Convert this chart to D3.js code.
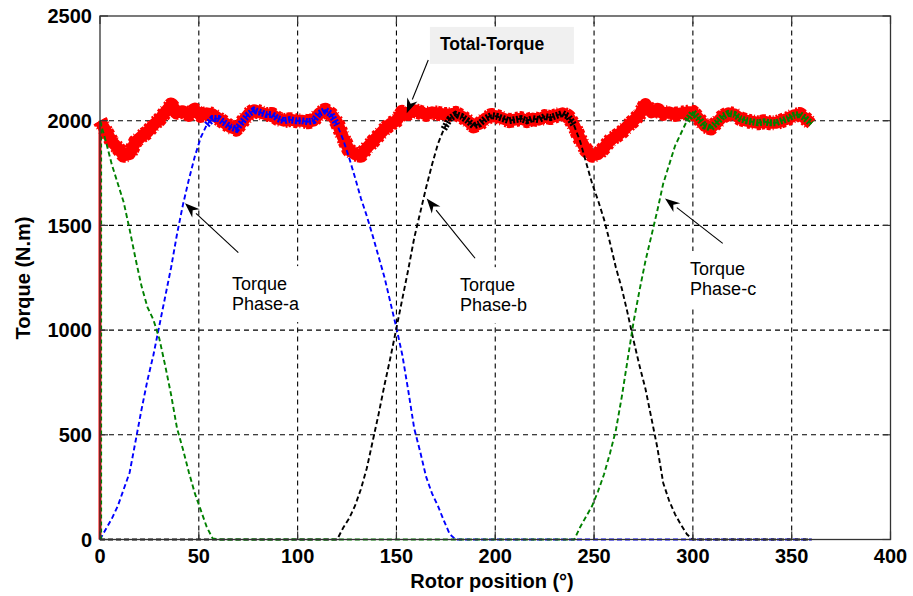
<!DOCTYPE html>
<html>
<head>
<meta charset="utf-8">
<script src="https://cdn.jsdelivr.net/npm/d3@7"></script>
<style>
  html, body { margin: 0; padding: 0; background: #fff; }
  svg { display: block; font-family: Arial, "Liberation Sans", sans-serif; }
</style>
</head>
<body>
<svg id="chart" width="913" height="596"></svg>
<script>
// ---------------- DATA ----------------
// rotor position samples (degrees), 3° step
const positions = d3.range(0, 361, 3);

const xTicks = [0, 50, 100, 150, 200, 250, 300, 350, 400];
const yTicks = [0, 500, 1000, 1500, 2000, 2500];

// initial step at 0°
const stepX = [0, 0];
const stepT = [0, 2000];

const totalTorque = [
  2000,1950,1900,1870,1835,1840,1900,1925,1945,1980,
  2005,2040,2075,2040,2045,2030,2050,2025,2035,2030,
  2010,1990,1970,1960,1995,2030,2050,2040,2030,2030,
  2010,2000,2005,2000,2000,1995,2000,2035,2050,2030,
  1990,1920,1860,1840,1835,1870,1900,1930,1960,1985,
  2000,2040,2035,2050,2040,2030,2040,2035,2030,2030,
  2035,2020,2000,1975,1985,2010,2025,2020,2010,2000,
  2005,2010,2000,2010,2005,2020,2015,2025,2035,2020,
  1975,1910,1860,1835,1840,1870,1905,1925,1945,1975,
  2000,2030,2080,2040,2050,2035,2040,2030,2035,2040,
  2040,2010,1975,1965,1990,2020,2035,2030,2010,2000,
  1995,1990,1995,1990,1990,2000,2010,2025,2030,2010,
  1985
];

const phaseA = [
  0,50,100,160,240,320,470,620,760,880,
  1020,1160,1300,1460,1600,1720,1830,1920,1980,2010,
  2010,1990,1970,1960,1995,2030,2050,2040,2030,2030,
  2010,2000,2005,2000,2000,1995,2000,2035,2050,2030,
  1980,1910,1825,1730,1630,1545,1450,1350,1250,1130,
  1010,880,710,530,420,300,220,160,90,25,
  0,0,0,0,0,0,0,0,0,0,
  0,0,0,0,0,0,0,0,0,0,
  0,0,0,0,0,0,0,0,0,0,
  0,0,0,0,0,0,0,0,0,0,
  0,0,0,0,0,0,0,0,0,0,
  0,0,0,0,0,0,0,0,0,0,
  0
];

const phaseB = [
  0,0,0,0,0,0,0,0,0,0,
  0,0,0,0,0,0,0,0,0,0,
  0,0,0,0,0,0,0,0,0,0,
  0,0,0,0,0,0,0,0,0,0,
  0,55,100,160,240,340,470,600,740,870,
  1010,1150,1290,1440,1560,1680,1790,1890,1960,2010,
  2030,2020,2000,1975,1985,2010,2025,2020,2010,2000,
  2005,2010,2000,2010,2005,2020,2015,2025,2035,2020,
  1975,1900,1800,1700,1620,1530,1420,1300,1200,1080,
  950,830,720,580,440,270,185,120,70,25,
  0,0,0,0,0,0,0,0,0,0,
  0,0,0,0,0,0,0,0,0,0,
  0
];

const phaseC = [
  2000,1900,1790,1700,1610,1480,1340,1210,1110,1050,
  960,830,690,530,430,320,220,140,60,5,
  0,0,0,0,0,0,0,0,0,0,
  0,0,0,0,0,0,0,0,0,0,
  0,0,0,0,0,0,0,0,0,0,
  0,0,0,0,0,0,0,0,0,0,
  0,0,0,0,0,0,0,0,0,0,
  0,0,0,0,0,0,0,0,0,0,
  0,60,110,160,230,310,410,520,680,860,
  1040,1190,1330,1450,1570,1700,1790,1880,1940,2000,
  2040,2010,1975,1965,1990,2020,2035,2030,2010,2000,
  1995,1990,1995,1990,1990,2000,2010,2025,2030,2010,
  1985
];

// annotations (data coordinates): arrow tail -> tip, label
const annotations = [
  { lines: ["Torque", "Phase-a"], tx: 66.8, ty: 1191, tail: [70, 1370], tip: [43, 1606] },
  { lines: ["Torque", "Phase-b"], tx: 182.2, ty: 1186, tail: [189.8, 1343], tip: [165.3, 1629] },
  { lines: ["Torque", "Phase-c"], tx: 298.6, ty: 1263, tail: [315.1, 1414], tip: [285.9, 1629] }
];
const totalLabel = { text: "Total-Torque", tx: 172, ty: 2338, tail: [166.1, 2290], tip: [155.2, 2035] };

// ---------------- CHART ----------------
const svg = d3.select("#chart");
const W = 913, H = 596;
const m = { left: 100, right: 913 - 890.5, top: 16, bottom: 596 - 539.5 };
const x = d3.scaleLinear().domain([0, 400]).range([m.left, W - m.right]);
const y = d3.scaleLinear().domain([0, 2500]).range([H - m.bottom, m.top]);

svg.append("rect").attr("width", W).attr("height", H).attr("fill", "#fff");

// grid
const grid = svg.append("g").attr("class", "grid");
grid.selectAll("line.v").data(xTicks.slice(1, -1)).join("line")
  .attr("x1", d => x(d)).attr("x2", d => x(d))
  .attr("y1", y(0)).attr("y2", y(2500))
  .attr("stroke", "#000").attr("stroke-width", 1.1).attr("stroke-dasharray", "5,4");
grid.selectAll("line.h").data(yTicks.slice(1, -1)).join("line")
  .attr("y1", d => y(d)).attr("y2", d => y(d))
  .attr("x1", x(0)).attr("x2", x(400))
  .attr("stroke", "#000").attr("stroke-width", 1.1).attr("stroke-dasharray", "5,4");

// label boxes (hide grid beneath)
const labelFont = 18;
annotations.forEach(a => {
  const px = x(a.tx), py = y(a.ty);
  svg.append("rect")
    .attr("x", px - 7).attr("y", py - 24)
    .attr("width", 82).attr("height", 56)
    .attr("fill", "#fff");
});
{
  const px = x(totalLabel.tx), py = y(totalLabel.ty);
  svg.append("rect").attr("x", px - 10).attr("y", py - 23)
    .attr("width", 144).attr("height", 37).attr("fill", "#f0f0f0");
}

const line = d3.line().x(d => x(d[0])).y(d => y(d[1]));
const zip = arr => positions.map((p, i) => [p, arr[i]]);

// total torque (thick red band with ragged edges)
svg.append("path").datum(zip(totalTorque)).attr("d", line)
  .attr("fill", "none").attr("stroke", "#ff0000").attr("stroke-width", 12)
  .attr("stroke-linejoin", "round");
svg.append("path").datum(zip(totalTorque)).attr("d", line)
  .attr("fill", "none").attr("stroke", "#ff0000").attr("stroke-width", 15)
  .attr("stroke-dasharray", "3,2,1,4,2,1,4,3").attr("stroke-linejoin", "round");
svg.append("path").datum(stepX.map((v, i) => [v, stepT[i]])).attr("d", line)
  .attr("fill", "none").attr("stroke", "#ff0000").attr("stroke-width", 3);

// phases
const phases = [
  { data: phaseA, color: "#0000ff" },
  { data: phaseB, color: "#000000" },
  { data: phaseC, color: "#008000" }
];
phases.forEach(p => {
  svg.append("path").datum(zip(p.data)).attr("d", line)
    .attr("fill", "none").attr("stroke", p.color).attr("stroke-width", 1.9)
    .attr("stroke-dasharray", "5,3");
  const flat = d3.line().defined(d => d[1] > 1945).x(d => x(d[0])).y(d => y(d[1]));
  svg.append("path").datum(zip(p.data)).attr("d", flat)
    .attr("fill", "none").attr("stroke", p.color).attr("stroke-width", 7)
    .attr("stroke-dasharray", "2,1.5");
});
svg.append("path").datum(stepX.map((v, i) => [v, stepT[i]])).attr("d", line)
  .attr("fill", "none").attr("stroke", "#008000").attr("stroke-width", 1.2)
  .attr("stroke-dasharray", "4,3").attr("transform", "translate(1.5,0)");

// axes box
svg.append("rect").attr("x", x(0)).attr("y", y(2500))
  .attr("width", x(400) - x(0)).attr("height", y(0) - y(2500))
  .attr("fill", "none").attr("stroke", "#333").attr("stroke-width", 1.3);

// inward ticks (all four sides)
const tk = 8;
const ticks = svg.append("g").attr("stroke", "#333").attr("stroke-width", 1.2);
xTicks.forEach(t => {
  ticks.append("line").attr("x1", x(t)).attr("x2", x(t)).attr("y1", y(0)).attr("y2", y(0) - tk);
  ticks.append("line").attr("x1", x(t)).attr("x2", x(t)).attr("y1", y(2500)).attr("y2", y(2500) + tk);
});
yTicks.forEach(t => {
  ticks.append("line").attr("y1", y(t)).attr("y2", y(t)).attr("x1", x(0)).attr("x2", x(0) + tk);
  ticks.append("line").attr("y1", y(t)).attr("y2", y(t)).attr("x1", x(400)).attr("x2", x(400) - tk);
});

// tick labels
svg.append("g").selectAll("text").data(xTicks).join("text")
  .attr("x", d => x(d)).attr("y", 563)
  .attr("text-anchor", "middle").attr("font-size", 20).attr("font-weight", "bold")
  .attr("fill", "#000").text(d => d);
svg.append("g").selectAll("text").data(yTicks).join("text")
  .attr("x", 92).attr("y", d => y(d)).attr("dy", "0.36em")
  .attr("text-anchor", "end").attr("font-size", 20).attr("font-weight", "bold")
  .attr("fill", "#000").text(d => d);

// axis titles
svg.append("text").attr("x", 492).attr("y", 588)
  .attr("text-anchor", "middle").attr("font-size", 20).attr("font-weight", "bold")
  .text("Rotor position (°)");
svg.append("text").attr("transform", "translate(30,278) rotate(-90)")
  .attr("text-anchor", "middle").attr("font-size", 20).attr("font-weight", "bold")
  .text("Torque (N.m)");

// arrows
function arrow(tail, tip) {
  const x1 = x(tail[0]), y1 = y(tail[1]), x2 = x(tip[0]), y2 = y(tip[1]);
  const ang = Math.atan2(y2 - y1, x2 - x1);
  const L = 15, Wd = 5.5;
  const bx = x2 - L * Math.cos(ang), by = y2 - L * Math.sin(ang);
  svg.append("line").attr("x1", x1).attr("y1", y1).attr("x2", bx).attr("y2", by)
    .attr("stroke", "#000").attr("stroke-width", 1.1);
  const p1 = [bx + Wd * Math.sin(ang), by - Wd * Math.cos(ang)];
  const p2 = [bx - Wd * Math.sin(ang), by + Wd * Math.cos(ang)];
  const notch = [x2 - 0.7 * L * Math.cos(ang), y2 - 0.7 * L * Math.sin(ang)];
  svg.append("path").attr("d", `M${x2},${y2}L${p1[0]},${p1[1]}L${notch[0]},${notch[1]}L${p2[0]},${p2[1]}Z`)
    .attr("fill", "#000");
}
annotations.forEach(a => {
  arrow(a.tail, a.tip);
  const t = svg.append("text").attr("x", x(a.tx)).attr("y", y(a.ty))
    .attr("font-size", labelFont).attr("fill", "#000");
  a.lines.forEach((l, i) => t.append("tspan").attr("x", x(a.tx)).attr("dy", i ? 20 : 0).text(l));
});
arrow(totalLabel.tail, totalLabel.tip);
svg.append("text").attr("x", x(totalLabel.tx)).attr("y", y(totalLabel.ty))
  .attr("font-size", 17.5).attr("font-weight", "bold").attr("fill", "#000").text(totalLabel.text);
</script>
</body>
</html>
